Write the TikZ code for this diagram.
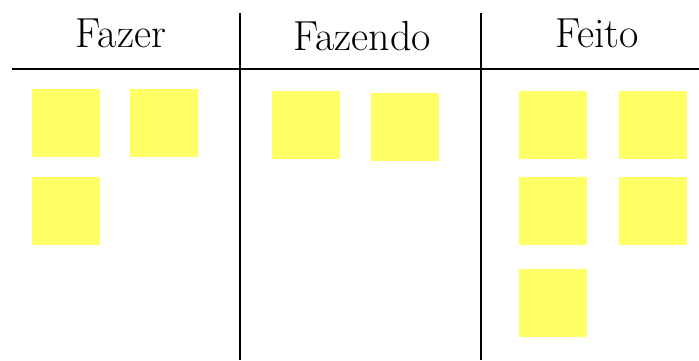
\documentclass[tikz,border=0pt]{standalone}
\definecolor{notey}{RGB}{255,255,102}
\begin{document}
\begin{tikzpicture}[x=1pt,y=-1pt,
    note/.style={fill=notey, minimum size=68pt, inner sep=0pt, anchor=north west},
    title/.style={anchor=base, font=\fontsize{42}{48}\selectfont}]
        \useasboundingbox (0,0) rectangle (699,360);
        % board lines
        \draw[line width=1.6pt] (12,69) -- (699,69);
        \draw[line width=1.6pt] (240,13) -- (240,360);
        \draw[line width=1.6pt] (481,13) -- (481,360);
        % column titles
        \node[title] (fazer) at (121,47) {Fazer};
        \node[title] (fazendo) at (362,50) {Fazendo};
        \node[title] (feito) at (597,47) {Feito};
        % sticky notes
        \foreach \x/\y [count=\i] in {32/89,130/89,32/177} {
            \node[note] (fazer\i) at (\x,\y) {};
        }
        \foreach \x/\y [count=\i] in {272/91,371/93} {
            \node[note] (fazendo\i) at (\x,\y) {};
        }
        \foreach \x/\y [count=\i] in {519/91,619/91,519/177,619/177,519/269} {
            \node[note] (feito\i) at (\x,\y) {};
        }
    \end{tikzpicture}
\end{document}
